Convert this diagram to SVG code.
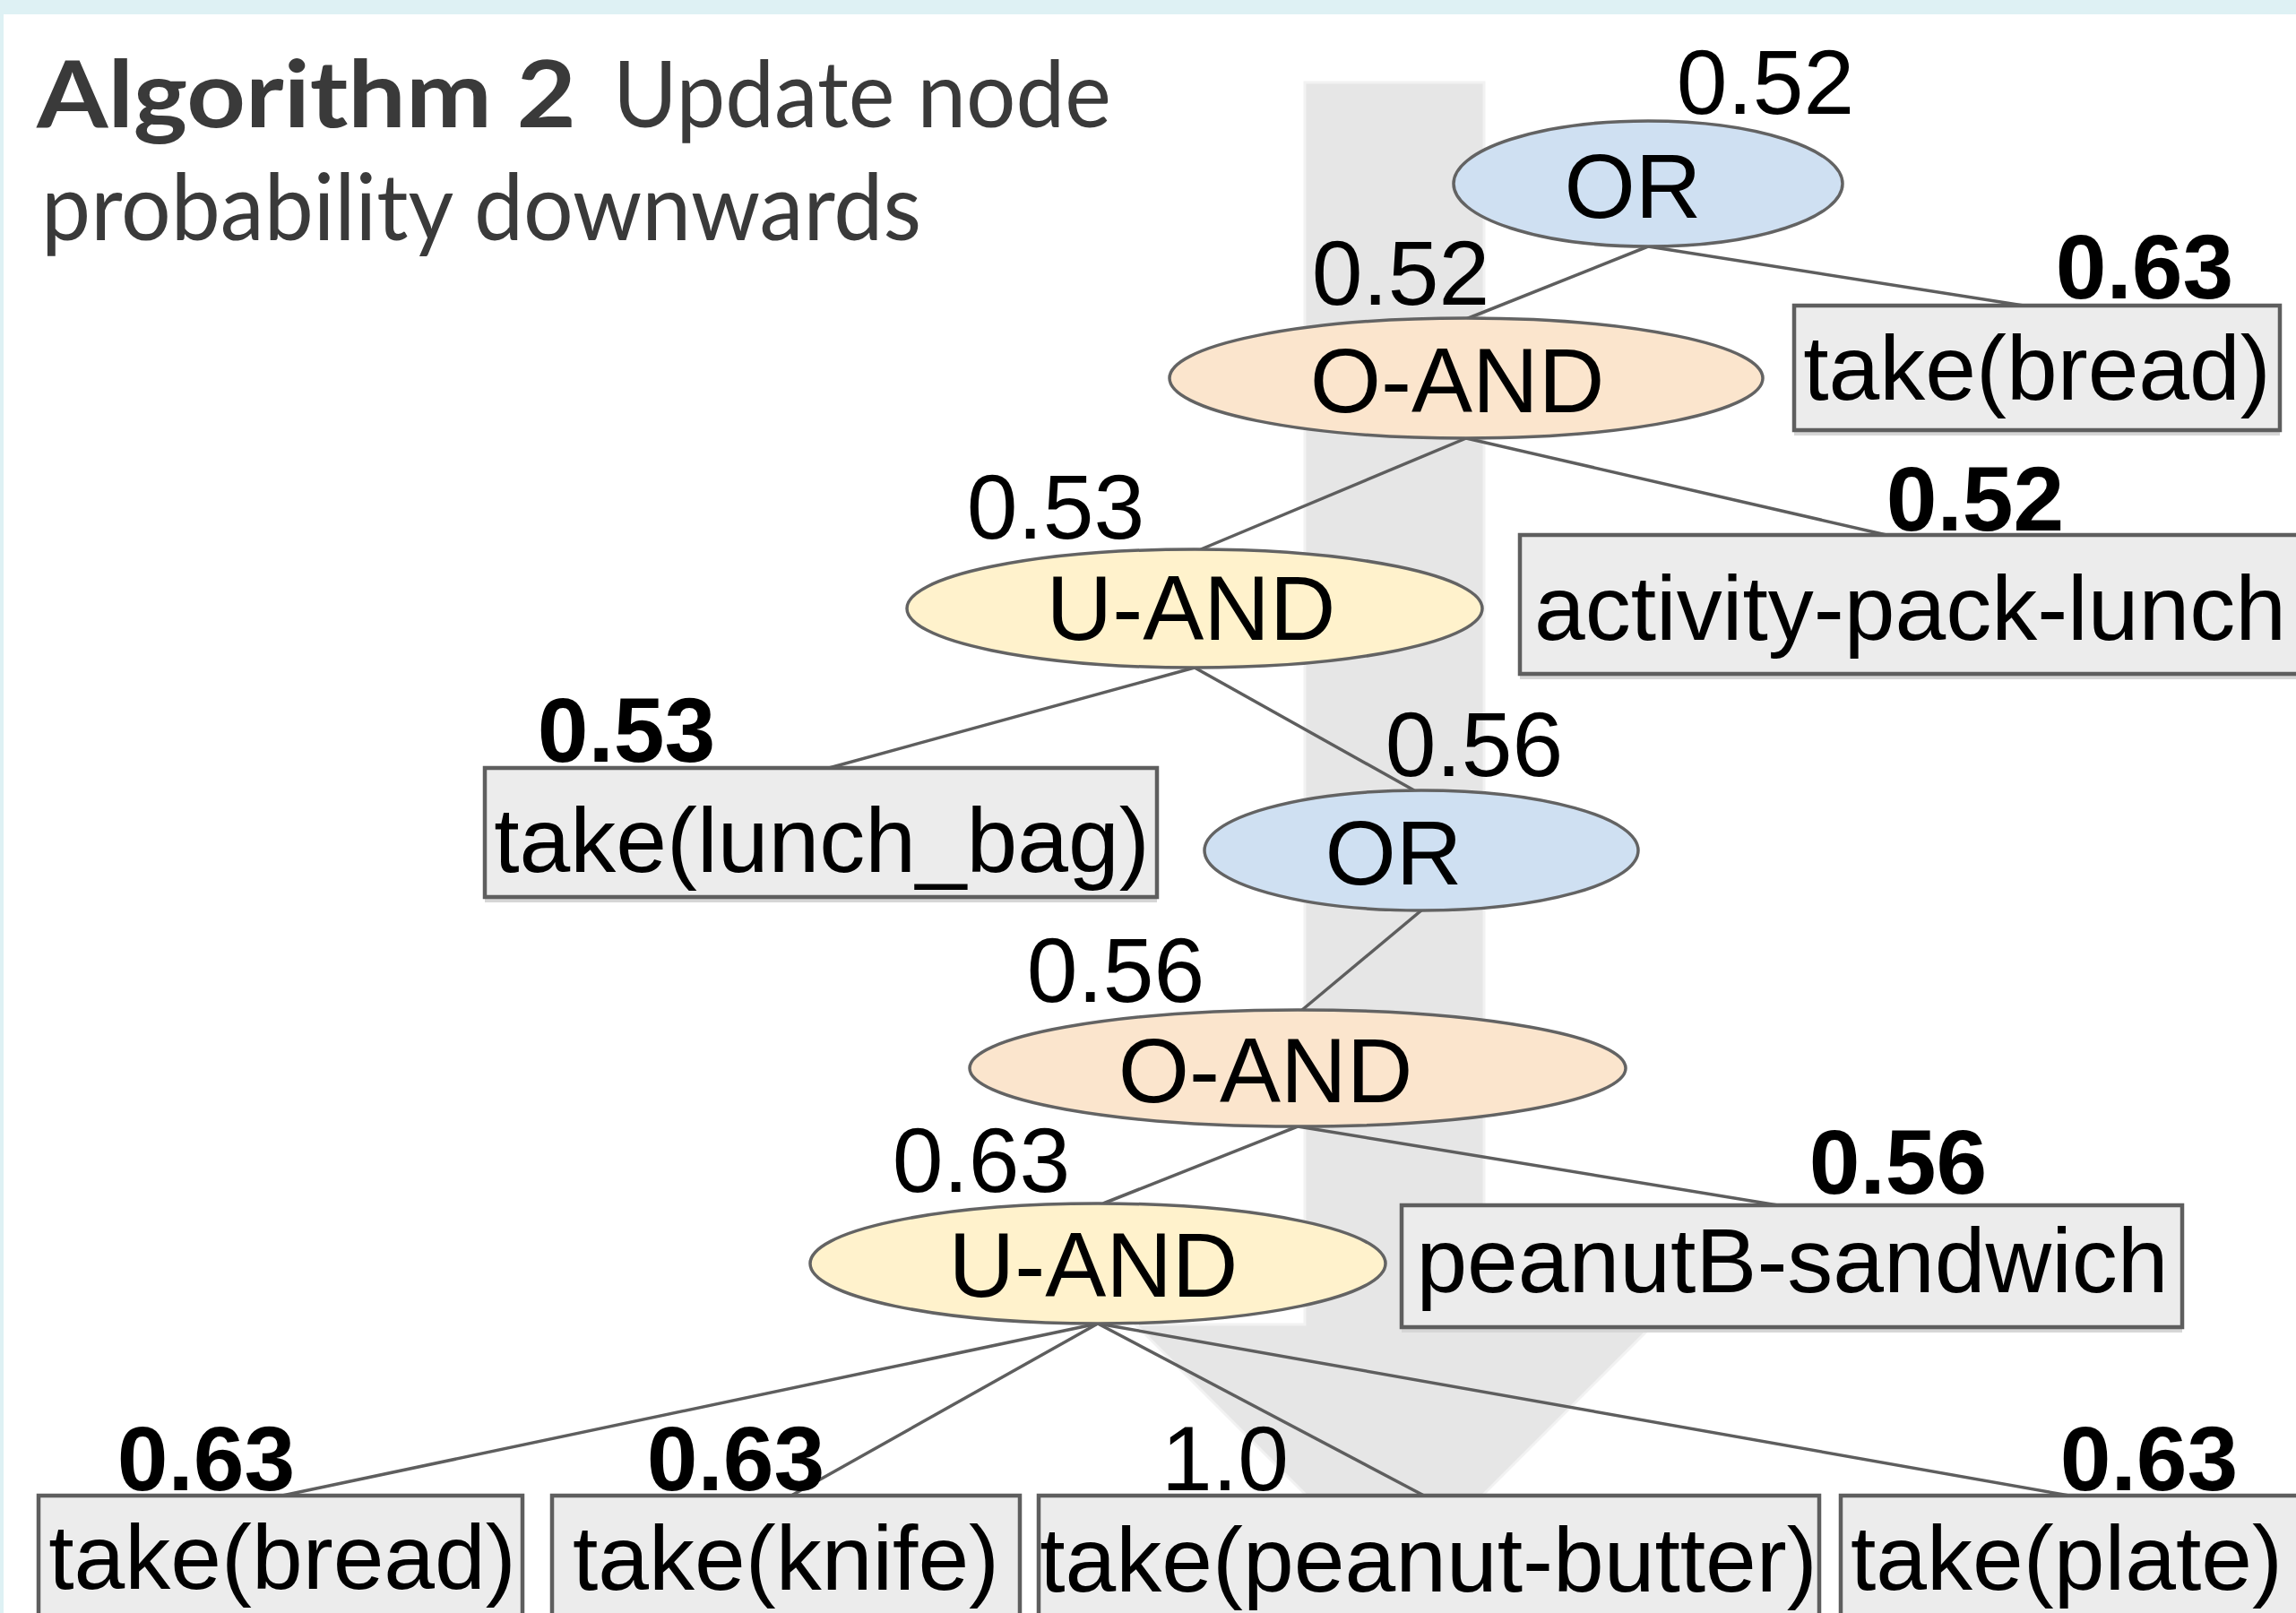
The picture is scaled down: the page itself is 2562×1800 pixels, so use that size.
<svg xmlns="http://www.w3.org/2000/svg" width="2562" height="1800" viewBox="0 0 2562 1800">
<style>
.title{font-family:Lato,"Open Sans","Liberation Sans",sans-serif;fill:#3a3a3a;font-size:103px}
.lbl{font-family:"Liberation Sans",Arial,sans-serif;font-size:102px;fill:#000}
.c{text-anchor:middle}
.b{font-weight:bold}
.or{fill:#cfe0f2;stroke:#636363;stroke-width:3.5}
.oand{fill:#fbe5cd;stroke:#636363;stroke-width:3.5}
.uand{fill:#fff2cc;stroke:#636363;stroke-width:3.5}
.box{fill:#ececec;stroke:#5e5e5e;stroke-width:4.5}
.shadow{fill:#d6d6d6}
.edge{stroke:#5e5e5e;stroke-width:3.5;fill:none}
</style>
<rect x="0" y="0" width="2562" height="1800" fill="#def1f4"/>
<rect x="4" y="16" width="2558" height="1784" fill="#ffffff"/>
<g id="title">
<text class="title b" x="41" y="142" textLength="602" lengthAdjust="spacingAndGlyphs">Algorithm 2</text>
<text class="title" x="684" y="142" textLength="556" lengthAdjust="spacingAndGlyphs">Update node</text>
<text class="title" x="46" y="268" textLength="982" lengthAdjust="spacingAndGlyphs">probability downwards</text>
</g>
<g id="flow-arrow">
<polygon points="1456,92 1656,92 1656,1478 1845,1478 1556,1767 1267,1478 1456,1478" fill="#e6e6e6" stroke="#f2f2f2" stroke-width="3"/>
</g>
<g id="connectors">
<line class="edge" x1="1839" y1="275" x2="1636" y2="356"/>
<line class="edge" x1="1839" y1="275" x2="2258" y2="341"/>
<line class="edge" x1="1636" y1="489" x2="1340" y2="613"/>
<line class="edge" x1="1636" y1="489" x2="2105" y2="597"/>
<line class="edge" x1="1333" y1="745" x2="925" y2="857"/>
<line class="edge" x1="1333" y1="745" x2="1578" y2="882"/>
<line class="edge" x1="1586" y1="1016" x2="1453" y2="1127"/>
<line class="edge" x1="1448" y1="1257" x2="1984" y2="1345"/>
<line class="edge" x1="1448" y1="1257" x2="1231" y2="1343"/>
<line class="edge" x1="1225" y1="1477" x2="315" y2="1669"/>
<line class="edge" x1="1225" y1="1477" x2="883" y2="1669"/>
<line class="edge" x1="1225" y1="1477" x2="1589" y2="1669"/>
<line class="edge" x1="1225" y1="1477" x2="2309" y2="1669"/>
</g>
<g id="n-or1">
<ellipse class="or" cx="1839" cy="205" rx="217" ry="70"/>
<text class="lbl c" x="1822" y="243">OR</text>
<text class="lbl c" x="1970" y="127">0.52</text>
</g>
<g id="n-oand1">
<ellipse class="oand" cx="1636" cy="422" rx="331" ry="67"/>
<text class="lbl c" x="1626" y="460">O-AND</text>
<text class="lbl c" x="1563" y="340">0.52</text>
</g>
<g id="n-bread1">
<rect class="shadow" x="2002" y="347" width="542" height="139"/>
<rect class="box" x="2002" y="341" width="542" height="139"/>
<text class="lbl c" x="2273" y="446">take(bread)</text>
<text class="lbl c b" x="2393" y="333">0.63</text>
</g>
<g id="n-uand1">
<ellipse class="uand" cx="1333" cy="679" rx="321" ry="66"/>
<text class="lbl c" x="1329" y="714">U-AND</text>
<text class="lbl c" x="1178" y="601">0.53</text>
</g>
<g id="n-apl">
<rect class="shadow" x="1696" y="603" width="880" height="155"/>
<rect class="box" x="1696" y="597" width="880" height="155"/>
<text class="lbl" x="1712" y="714">activity-pack-lunch</text>
<text class="lbl c b" x="2204" y="592">0.52</text>
</g>
<g id="n-lunchbag">
<rect class="shadow" x="541" y="863" width="750" height="144"/>
<rect class="box" x="541" y="857" width="750" height="144"/>
<text class="lbl c" x="917" y="973">take(lunch_bag)</text>
<text class="lbl c b" x="699" y="850">0.53</text>
</g>
<g id="n-or2">
<ellipse class="or" cx="1586" cy="949" rx="242" ry="67"/>
<text class="lbl c" x="1555" y="987">OR</text>
<text class="lbl c" x="1645" y="866">0.56</text>
</g>
<g id="n-oand2">
<ellipse class="oand" cx="1448" cy="1192" rx="366" ry="65"/>
<text class="lbl c" x="1412" y="1230">O-AND</text>
<text class="lbl c" x="1245" y="1118">0.56</text>
</g>
<g id="n-pbs">
<rect class="shadow" x="1564" y="1351" width="871" height="136"/>
<rect class="box" x="1564" y="1345" width="871" height="136"/>
<text class="lbl c" x="2000" y="1442">peanutB-sandwich</text>
<text class="lbl c b" x="2118" y="1332">0.56</text>
</g>
<g id="n-uand2">
<ellipse class="uand" cx="1225" cy="1410" rx="321" ry="67"/>
<text class="lbl c" x="1220" y="1447">U-AND</text>
<text class="lbl c" x="1095" y="1330">0.63</text>
</g>
<g id="n-bread2">
<rect class="box" x="43" y="1669" width="540" height="160"/>
<text class="lbl c" x="315" y="1773">take(bread)</text>
<text class="lbl c b" x="230" y="1663">0.63</text>
</g>
<g id="n-knife">
<rect class="box" x="616" y="1669" width="522" height="160"/>
<text class="lbl c" x="877" y="1774">take(knife)</text>
<text class="lbl c b" x="821" y="1663">0.63</text>
</g>
<g id="n-pb">
<rect class="box" x="1159" y="1669" width="871" height="160"/>
<text class="lbl c" x="1594" y="1776">take(peanut-butter)</text>
<text class="lbl c" x="1367" y="1663">1.0</text>
</g>
<g id="n-plate">
<rect class="box" x="2054" y="1669" width="530" height="160"/>
<text class="lbl c" x="2306" y="1774">take(plate)</text>
<text class="lbl c b" x="2398" y="1663">0.63</text>
</g>
</svg>
